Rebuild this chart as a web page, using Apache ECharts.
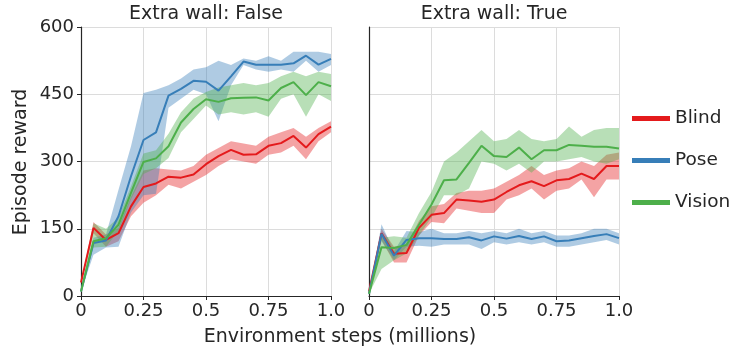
<!DOCTYPE html>
<html>
<head>
<meta charset="utf-8">
<script src="https://cdn.jsdelivr.net/npm/echarts@6/dist/echarts.min.js"></script>
<style>html,body{margin:0;padding:0;background:#fff}#c{width:731px;height:349px}</style>
</head>
<body>
<div id="c"></div>
<script>
const steps = ['0','0.05','0.1','0.15','0.2','0.25','0.3','0.35','0.4','0.45','0.5','0.55','0.6','0.65','0.7','0.75','0.8','0.85','0.9','0.95','1.0'];
const yTicks = [0,150,300,450,600];
const xTicks = ['0','0.25','0.5','0.75','1.0'];

// Extra wall: False
const blindF      = [30,152,125,140,200,243,251,266,264,271,294,312,326,315,316,335,341,357,331,361,378];
const blindF_hi   = [30,165,137,152,222,280,285,282,280,290,315,330,345,340,335,355,365,375,355,375,390];
const blindF_lo   = [30,140,110,122,178,208,225,248,240,255,270,290,305,300,295,315,320,335,305,345,365];
const poseF       = [10,118,124,178,267,348,365,447,462,480,478,458,490,523,516,516,516,519,536,516,529];
const poseF_hi    = [10,130,137,237,334,453,460,470,485,505,510,525,515,530,525,535,525,545,545,545,540];
const poseF_lo    = [10,92,108,110,186,225,228,420,440,460,450,390,470,515,505,500,505,500,525,500,515];
const visionF     = [10,122,129,159,230,299,307,334,387,417,439,433,441,442,443,436,464,477,448,477,468];
const visionF_hi  = [10,162,150,175,245,318,325,362,410,440,455,465,470,475,470,475,490,500,490,500,495];
const visionF_lo  = [10,108,110,145,215,272,285,308,365,395,425,405,410,405,410,400,440,450,400,450,435];

// Extra wall: True
const blindT      = [10,140,94,96,152,181,185,215,213,210,215,232,247,256,245,258,261,273,261,290,290];
const blindT_hi   = [10,150,110,114,168,200,205,230,235,235,240,255,270,290,270,280,285,300,290,315,320];
const blindT_lo   = [10,125,75,75,135,165,162,195,190,185,185,215,225,240,215,235,240,260,220,260,260];
const poseT       = [5,139,90,125,129,129,127,127,131,124,133,128,134,127,133,122,124,129,134,138,129];
const poseT_hi    = [5,160,100,145,142,150,140,140,145,140,145,140,150,140,145,135,135,140,150,150,140];
const poseT_lo    = [5,122,80,110,112,110,115,115,115,105,120,115,120,115,120,110,110,115,120,125,115];
const visionT     = [5,109,107,114,159,204,258,260,297,335,312,310,331,305,325,325,337,335,333,333,329];
const visionT_hi  = [5,130,133,130,185,232,300,320,345,370,345,350,370,350,345,350,378,355,370,375,375];
const visionT_lo  = [5,60,80,95,135,175,225,225,240,300,295,280,295,275,300,300,305,310,300,295,305];

const colors = {Blind:'#e41a1c', Pose:'#377eb8', Vision:'#4daf4a'};
const txt = '#262626';
const font = 'DejaVu Sans';

const panels = [
  {name:'F', data:{Blind:[blindF,blindF_lo,blindF_hi], Pose:[poseF,poseF_lo,poseF_hi], Vision:[visionF,visionF_lo,visionF_hi]}},
  {name:'T', data:{Blind:[blindT,blindT_lo,blindT_hi], Pose:[poseT,poseT_lo,poseT_hi], Vision:[visionT,visionT_lo,visionT_hi]}}
];

const series = [];
panels.forEach((p, gi) => {
  ['Blind','Pose','Vision'].forEach(k => {
    const [m, lo, hi] = p.data[k];
    const stack = 'band' + p.name + k;
    series.push({
      type:'line', name:'lo'+p.name+k, xAxisIndex:gi, yAxisIndex:gi, stack:stack,
      data: lo.slice(), symbol:'none', silent:true,
      lineStyle:{opacity:0}, animation:false
    });
    series.push({
      type:'line', name:'hi'+p.name+k, xAxisIndex:gi, yAxisIndex:gi, stack:stack,
      data: hi.map((v,i)=>v-lo[i]), symbol:'none', silent:true,
      lineStyle:{opacity:0}, areaStyle:{color:colors[k], opacity:0.4}, animation:false
    });
  });
  ['Blind','Pose','Vision'].forEach(k => {
    const m = p.data[k][0];
    series.push({
      type:'line', name:k, xAxisIndex:gi, yAxisIndex:gi,
      data: m.slice(), symbol:'none',
      lineStyle:{color:colors[k], width:2}, itemStyle:{color:colors[k]}, animation:false, z:5
    });
  });
});

const grids = [
  {left:81, top:27, width:250, height:269},
  {left:369, top:27, width:250, height:269}
];

const xAxes = grids.map((g,i)=>({
  type:'category', gridIndex:i, data:steps, boundaryGap:false,
  axisLine:{show:true, lineStyle:{color:'#262626', width:1.2}},
  axisTick:{show:true, length:4, interval:4, lineStyle:{color:'#262626'}},
  axisLabel:{color:txt, fontSize:18, fontFamily:font, margin:6, interval:4,
    formatter:v=>xTicks.includes(v)?v:''},
  splitLine:{show:true, interval:4, lineStyle:{color:'#dcdcdc', width:1}}
}));
const yAxes = grids.map((g,i)=>({
  type:'value', gridIndex:i, min:yTicks[0], max:yTicks[yTicks.length-1], interval:150,
  axisLine:{show:true, lineStyle:{color:'#262626', width:1.2}},
  axisTick:{show:i===0, length:4, lineStyle:{color:'#262626'}},
  axisLabel:{show:i===0, color:txt, fontSize:18, fontFamily:font, margin:7},
  splitLine:{show:true, lineStyle:{color:'#dcdcdc', width:1}}
}));

const chart = echarts.init(document.getElementById('c'), null, {renderer:'canvas'});
chart.setOption({
  backgroundColor:'#fff',
  animation:false,
  grid:grids,
  xAxis:xAxes,
  yAxis:yAxes,
  legend:{
    data:['Blind','Pose','Vision'], orient:'vertical', left:632, top:109, padding:0,
    icon:'rect', itemWidth:38, itemHeight:5, itemGap:23,
    textStyle:{color:txt, fontSize:18.5, fontFamily:font},
    selectedMode:false
  },
  graphic:[
    {type:'text', style:{text:'Extra wall: False', fill:txt, font:'19px "DejaVu Sans"', x:206, y:14, textAlign:'center', textVerticalAlign:'middle'}},
    {type:'text', style:{text:'Extra wall: True', fill:txt, font:'19px "DejaVu Sans"', x:494, y:14, textAlign:'center', textVerticalAlign:'middle'}},
    {type:'text', style:{text:'Environment steps (millions)', fill:txt, font:'19px "DejaVu Sans"', x:340, y:337, textAlign:'center', textVerticalAlign:'middle'}},
    {type:'text', rotation:Math.PI/2, x:21, y:162, style:{text:'Episode reward', fill:txt, font:'19px "DejaVu Sans"', x:0, y:0, textAlign:'center', textVerticalAlign:'middle'}}
  ],
  series:series
});
</script>
</body>
</html>
